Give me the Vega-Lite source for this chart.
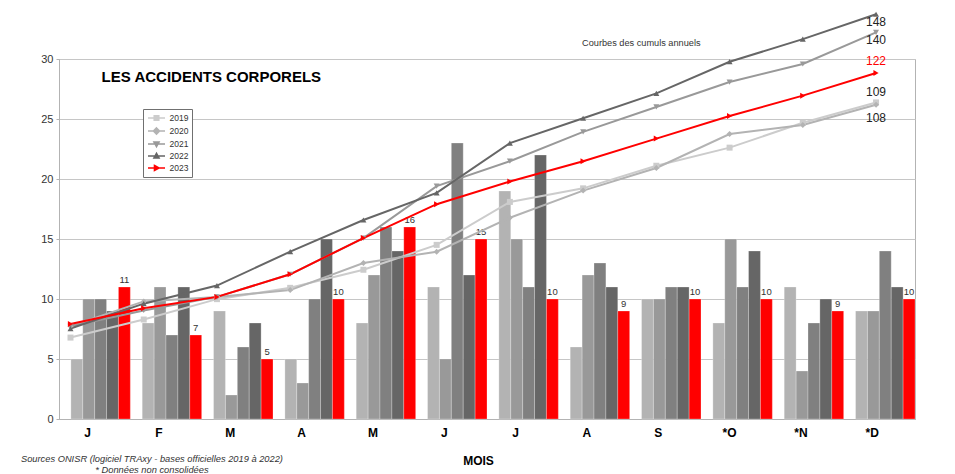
{
  "$schema": "https://vega.github.io/schema/vega-lite/v6.json",
  "width": 856,
  "height": 360,
  "autosize": {"type": "none"},
  "padding": {"left": 59, "top": 59, "right": 40, "bottom": 55},
  "background": "#ffffff",
  "config": {
    "font": "Liberation Sans",
    "view": {"stroke": "#b3b3b3", "strokeWidth": 1},
    "axis": {"domainColor": "#b3b3b3", "tickColor": "#b3b3b3"}
  },
  "data": {
    "values": [
      {"m": 1, "year": "2019", "n": 5, "c": 5},
      {"m": 2, "year": "2019", "n": 8, "c": 13},
      {"m": 3, "year": "2019", "n": 9, "c": 22},
      {"m": 4, "year": "2019", "n": 5, "c": 27},
      {"m": 5, "year": "2019", "n": 8, "c": 35},
      {"m": 6, "year": "2019", "n": 11, "c": 46},
      {"m": 7, "year": "2019", "n": 19, "c": 65},
      {"m": 8, "year": "2019", "n": 6, "c": 71},
      {"m": 9, "year": "2019", "n": 10, "c": 81},
      {"m": 10, "year": "2019", "n": 8, "c": 89},
      {"m": 11, "year": "2019", "n": 11, "c": 100},
      {"m": 12, "year": "2019", "n": 9, "c": 109},
      {"m": 1, "year": "2020", "n": 10, "c": 10},
      {"m": 2, "year": "2020", "n": 11, "c": 21},
      {"m": 3, "year": "2020", "n": 2, "c": 23},
      {"m": 4, "year": "2020", "n": 3, "c": 26},
      {"m": 5, "year": "2020", "n": 12, "c": 38},
      {"m": 6, "year": "2020", "n": 5, "c": 43},
      {"m": 7, "year": "2020", "n": 15, "c": 58},
      {"m": 8, "year": "2020", "n": 12, "c": 70},
      {"m": 9, "year": "2020", "n": 10, "c": 80},
      {"m": 10, "year": "2020", "n": 15, "c": 95},
      {"m": 11, "year": "2020", "n": 4, "c": 99},
      {"m": 12, "year": "2020", "n": 9, "c": 108},
      {"m": 1, "year": "2021", "n": 10, "c": 10},
      {"m": 2, "year": "2021", "n": 7, "c": 17},
      {"m": 3, "year": "2021", "n": 6, "c": 23},
      {"m": 4, "year": "2021", "n": 10, "c": 33},
      {"m": 5, "year": "2021", "n": 16, "c": 49},
      {"m": 6, "year": "2021", "n": 23, "c": 72},
      {"m": 7, "year": "2021", "n": 11, "c": 83},
      {"m": 8, "year": "2021", "n": 13, "c": 96},
      {"m": 9, "year": "2021", "n": 11, "c": 107},
      {"m": 10, "year": "2021", "n": 11, "c": 118},
      {"m": 11, "year": "2021", "n": 8, "c": 126},
      {"m": 12, "year": "2021", "n": 14, "c": 140},
      {"m": 1, "year": "2022", "n": 9, "c": 9},
      {"m": 2, "year": "2022", "n": 11, "c": 20},
      {"m": 3, "year": "2022", "n": 8, "c": 28},
      {"m": 4, "year": "2022", "n": 15, "c": 43},
      {"m": 5, "year": "2022", "n": 14, "c": 57},
      {"m": 6, "year": "2022", "n": 12, "c": 69},
      {"m": 7, "year": "2022", "n": 22, "c": 91},
      {"m": 8, "year": "2022", "n": 11, "c": 102},
      {"m": 9, "year": "2022", "n": 11, "c": 113},
      {"m": 10, "year": "2022", "n": 14, "c": 127},
      {"m": 11, "year": "2022", "n": 10, "c": 137},
      {"m": 12, "year": "2022", "n": 11, "c": 148},
      {"m": 1, "year": "2023", "n": 11, "c": 11},
      {"m": 2, "year": "2023", "n": 7, "c": 18},
      {"m": 3, "year": "2023", "n": 5, "c": 23},
      {"m": 4, "year": "2023", "n": 10, "c": 33},
      {"m": 5, "year": "2023", "n": 16, "c": 49},
      {"m": 6, "year": "2023", "n": 15, "c": 64},
      {"m": 7, "year": "2023", "n": 10, "c": 74},
      {"m": 8, "year": "2023", "n": 9, "c": 83},
      {"m": 9, "year": "2023", "n": 10, "c": 93},
      {"m": 10, "year": "2023", "n": 10, "c": 103},
      {"m": 11, "year": "2023", "n": 9, "c": 112},
      {"m": 12, "year": "2023", "n": 10, "c": 122}
    ]
  },
  "layer": [
    {
      "layer": [
        {
          "mark": {"type": "bar", "opacity": 1, "stroke": "#ffffff", "strokeWidth": 0.5, "strokeOpacity": 0.5},
          "encoding": {
            "x": {
              "field": "m", "type": "ordinal",
              "scale": {"domain": [1,2,3,4,5,6,7,8,9,10,11,12], "paddingInner": 0.166667, "paddingOuter": 0.083333, "align": 1},
              "axis": {
                "title": "MOIS",
                "labelExpr": "['J','F','M','A','M','J','J','A','S','*O','*N','*D'][datum.value - 1]",
                "labelAngle": 0,
                "labelFontSize": 12,
                "labelFontWeight": "bold",
                "labelColor": "#000000",
                "labelOffset": -13,
                "labelPadding": 8.5,
                "ticks": false,
                "tickSize": 0,
                "grid": false,
                "domainColor": "#b3b3b3",
                "titleFontSize": 12,
                "titleFontWeight": "bold",
                "titleColor": "#000000",
                "titleX": 419,
                "titleY": 45,
                "titleBaseline": "alphabetic"
              }
            },
            "xOffset": {"field": "year", "type": "nominal", "scale": {"paddingInner": 0, "paddingOuter": 0}},
            "y": {
              "field": "n", "type": "quantitative",
              "scale": {"domain": [0, 30], "nice": false, "zero": false},
              "axis": {
                "title": null,
                "values": [0, 2.5, 5, 7.5, 10, 12.5, 15, 17.5, 20, 22.5, 25, 27.5, 30],
                "labelExpr": "datum.value % 5 === 0 ? datum.label : ''",
                "grid": true,
                "gridColor": {"condition": {"test": "datum.value % 5 === 0", "value": "#c6c6c6"}, "value": "#e6e6e6"},
                "tickSize": 3,
                "labelPadding": 3,
                "labelFontSize": 11,
                "labelColor": "#333333",
                "domainColor": "#b3b3b3"
              }
            },
            "color": {
              "field": "year", "type": "nominal",
              "scale": {"domain": ["2019", "2020", "2021", "2022", "2023"], "range": ["#b3b3b3", "#999999", "#808080", "#666666", "#ff0000"]},
              "legend": null
            }
          }
        },
        {
          "transform": [{"filter": "datum.year == '2023'"}],
          "mark": {"type": "text", "fontSize": 9.5, "color": "#333333", "baseline": "alphabetic", "dy": -4},
          "encoding": {
            "x": {"field": "m", "type": "ordinal"},
            "xOffset": {"field": "year", "type": "nominal"},
            "y": {"field": "n", "type": "quantitative"},
            "text": {"field": "n", "type": "quantitative"}
          }
        },
        {
          "data": {"values": [{}]},
          "mark": {"type": "text", "fontSize": 15, "fontWeight": "bold", "color": "#000000", "align": "left", "baseline": "alphabetic", "dx": 1},
          "encoding": {
            "x": {"datum": 1, "type": "ordinal"},
            "y": {"datum": 28.125, "type": "quantitative"},
            "text": {"value": "LES ACCIDENTS CORPORELS"}
          }
        },
        {
          "data": {"values": [{}]},
          "mark": {"type": "text", "fontSize": 9.2, "color": "#333333", "align": "center", "baseline": "middle", "dx": -30},
          "encoding": {
            "x": {"datum": 9, "type": "ordinal"},
            "y": {"datum": 31.33, "type": "quantitative"},
            "text": {"value": "Courbes des cumuls annuels"}
          }
        },
        {
          "data": {"values": [{}]},
          "mark": {"type": "text", "fontSize": 9.3, "fontStyle": "italic", "color": "#333333", "align": "center", "baseline": "alphabetic", "lineHeight": 10.5, "dx": -20},
          "encoding": {
            "x": {"datum": 2, "type": "ordinal"},
            "y": {"datum": -3.6, "type": "quantitative"},
            "text": {"value": ["Sources ONISR (logiciel TRAxy - bases officielles 2019 à 2022)", "* Données non consolidées"]}
          }
        }
      ]
    },
    {
      "layer": [
        {
          "mark": {"type": "line", "strokeWidth": 2},
          "encoding": {
            "x": {"field": "m", "type": "quantitative", "scale": {"domain": [0.843, 12.532], "nice": false, "zero": false}, "axis": null},
            "y": {"field": "c", "type": "quantitative", "scale": {"domain": [-31, 128.2], "nice": false, "zero": false}, "axis": null},
            "color": {
              "field": "year", "type": "nominal",
              "scale": {"domain": ["2019", "2020", "2021", "2022", "2023"], "range": ["#cccccc", "#b3b3b3", "#999999", "#666666", "#ff0000"]},
              "legend": null
            }
          }
        },
        {
          "mark": {"type": "point", "filled": true, "size": 36, "opacity": 1},
          "encoding": {
            "x": {"field": "m", "type": "quantitative"},
            "y": {"field": "c", "type": "quantitative"},
            "color": {"field": "year", "type": "nominal", "legend": null},
            "shape": {
              "field": "year", "type": "nominal",
              "scale": {"domain": ["2019", "2020", "2021", "2022", "2023"], "range": ["square", "diamond", "triangle-down", "triangle-up", "triangle-right"]},
              "legend": null
            }
          }
        },
        {
          "transform": [{"filter": "datum.m == 12 && (datum.year == '2022' || datum.year == '2021')"}],
          "mark": {"type": "text", "fontSize": 12, "color": "#222222", "align": "center", "baseline": "middle", "dy": 8},
          "encoding": {
            "x": {"field": "m", "type": "quantitative"},
            "y": {"field": "c", "type": "quantitative"},
            "text": {"field": "c", "type": "quantitative"}
          }
        },
        {
          "transform": [{"filter": "datum.m == 12 && datum.year == '2023'"}],
          "mark": {"type": "text", "fontSize": 12, "color": "#ff0000", "align": "center", "baseline": "middle", "dy": -12},
          "encoding": {
            "x": {"field": "m", "type": "quantitative"},
            "y": {"field": "c", "type": "quantitative"},
            "text": {"field": "c", "type": "quantitative"}
          }
        },
        {
          "transform": [{"filter": "datum.m == 12 && datum.year == '2019'"}],
          "mark": {"type": "text", "fontSize": 12, "color": "#222222", "align": "center", "baseline": "middle", "dy": -10},
          "encoding": {
            "x": {"field": "m", "type": "quantitative"},
            "y": {"field": "c", "type": "quantitative"},
            "text": {"field": "c", "type": "quantitative"}
          }
        },
        {
          "transform": [{"filter": "datum.m == 12 && datum.year == '2020'"}],
          "mark": {"type": "text", "fontSize": 12, "color": "#222222", "align": "center", "baseline": "middle", "dy": 13},
          "encoding": {
            "x": {"field": "m", "type": "quantitative"},
            "y": {"field": "c", "type": "quantitative"},
            "text": {"field": "c", "type": "quantitative"}
          }
        }
      ]
    },
    {
      "mark": {"type": "point", "opacity": 0, "filled": false, "size": 100},
      "encoding": {
        "x": {"field": "m", "type": "quantitative", "axis": null},
        "y": {"field": "c", "type": "quantitative", "axis": null},
        "color": {
          "field": "year", "type": "nominal",
          "scale": {"domain": ["2019", "2020", "2021", "2022", "2023"], "range": ["#cccccc", "#b3b3b3", "#999999", "#666666", "#ff0000"]},
          "legend": {"orient": "none", "legendX": 84, "legendY": 50, "title": null, "direction": "vertical", "fillColor": "#ffffff", "strokeColor": "#707070", "padding": 3, "symbolSize": 100, "symbolOffset": 4.5, "symbolOpacity": 1, "symbolStrokeWidth": 1.6, "labelOffset": 7, "labelFontSize": 8.5, "labelColor": "#333333", "rowPadding": 0}
        },
        "shape": {
          "field": "year", "type": "nominal",
          "scale": {"domain": ["2019", "2020", "2021", "2022", "2023"], "range": ["M-1.7,0H1.7M-0.45,-0.45H0.45V0.45H-0.45ZM-0.15,-0.15H0.15V0.15H-0.15Z", "M-1.7,0H1.7M0,-0.6L0.6,0L0,0.6L-0.6,0ZM0,-0.25L0.25,0L0,0.25L-0.25,0Z", "M-1.7,0H1.7M-0.5,-0.4L0.5,-0.4L0,0.5ZM-0.2,-0.15L0.2,-0.15L0,0.2Z", "M-1.7,0H1.7M-0.5,0.4L0.5,0.4L0,-0.5ZM-0.2,0.15L0.2,0.15L0,-0.2Z", "M-1.7,0H1.7M-0.4,-0.5L0.5,0L-0.4,0.5ZM-0.15,-0.2L0.2,0L-0.15,0.2Z"]},
          "legend": {"orient": "none", "legendX": 84, "legendY": 50, "title": null, "direction": "vertical", "fillColor": "#ffffff", "strokeColor": "#707070", "padding": 3, "symbolSize": 100, "symbolOffset": 4.5, "symbolOpacity": 1, "symbolStrokeWidth": 1.6, "labelOffset": 7, "labelFontSize": 8.5, "labelColor": "#333333", "rowPadding": 0}
        }
      }
    }
  ],
  "resolve": {"scale": {"x": "independent", "y": "independent", "color": "independent", "shape": "independent"}}
}
